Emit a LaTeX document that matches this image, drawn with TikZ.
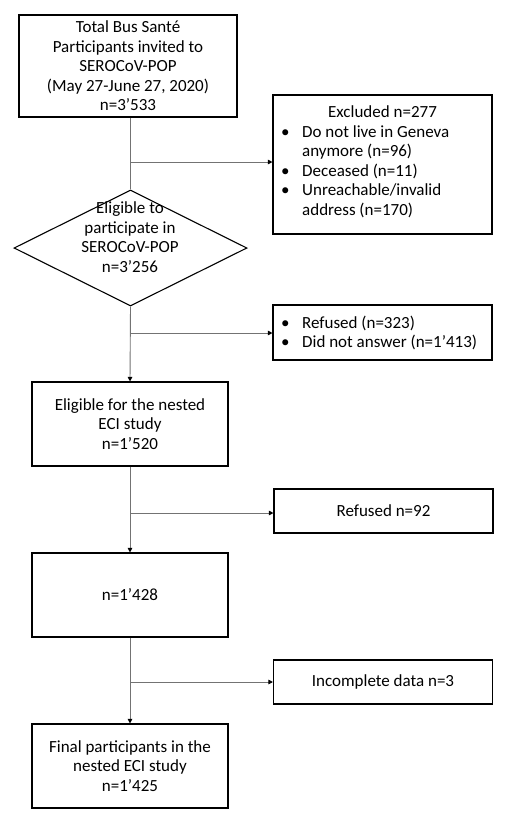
\documentclass[tikz,border=0pt]{standalone}
\usepackage{fontspec}
\setmainfont{Carlito}
\usetikzlibrary{shapes.geometric,arrows.meta}
\begin{document}
\begin{tikzpicture}[x=1pt,y=-1pt,
  font=\fontsize{17}{19.5}\selectfont,
  box/.style={draw=black, line width=1.1pt, align=center, inner sep=0pt, minimum width=196pt, minimum height=84pt},
  sidebox/.style={draw=black, line width=1.1pt, align=center, inner sep=0pt, minimum width=219pt},
  txt/.style={inner sep=0pt, align=center},
  link/.style={draw=black!55, line width=0.9pt},
  arr/.style={link, -{Triangle[length=4.5pt,width=4.5pt,fill=black,color=black]}}]
\useasboundingbox (0,0) rectangle (508,828);
\fill[white] (0,0) rectangle (508,828);

% main column
\node[box, minimum width=218pt, minimum height=102pt] (total) at (128,66)
  {Total Bus Sant\'e\\Participants invited to\\SEROCoV-POP\\(May 27-June 27, 2020)\\n=3\textquoteright 533};
\node[draw=black, line width=1.1pt, diamond, inner sep=0pt, minimum width=233pt, minimum height=116pt] (dia) at (130.5,248) {};
\node[txt] (diat) at (130,237) {Eligible to\\participate in\\SEROCoV-POP\\n=3\textquoteright 256};
\node[box] (elig) at (130,424) {Eligible for the nested\\ECI study\\n=1\textquoteright 520};
\node[box] (n1428) at (130,595) {n=1\textquoteright 428};
\node[box] (final) at (130,766) {Final participants in the\\nested ECI study\\n=1\textquoteright 425};

% side boxes
\node[sidebox, minimum height=139pt] (excl) at (382.5,164.5) {};
\node[txt, anchor=west] (exclt) at (281,162.5) {%
  \begin{tabular}{@{}p{21pt}@{}l@{}}
  \multicolumn{2}{@{}l@{}}{\hspace{47pt}Excluded n=277}\\
  \textbullet & Do not live in Geneva\\
   & anymore (n=96)\\
  \textbullet & Deceased (n=11)\\
  \textbullet & Unreachable/invalid\\
   & address (n=170)
  \end{tabular}};
\node[sidebox, minimum height=55pt] (ref) at (382.5,332.5) {};
\node[txt, anchor=west] (reft) at (281,334) {%
  \begin{tabular}{@{}p{21pt}@{}l@{}}
  \textbullet & Refused (n=323)\\
  \textbullet & Did not answer (n=1\textquoteright 413)
  \end{tabular}};
\node[sidebox, minimum height=44pt] (ref92) at (383.5,511) {Refused n=92};
\node[sidebox, minimum height=44pt] (inc) at (383,682) {Incomplete data n=3};

% branch points
\coordinate (b1) at (130,162);
\coordinate (b2) at (130,333);
\coordinate (b3) at (130,513);
\coordinate (b4) at (130,682);

% connectors
\draw[link] (dia.north |- total.south) -- (dia.north);
\draw[arr] (b1) -- (excl.west |- b1);
\draw[arr] (dia.south) -- (elig.north);
\draw[arr] (b2) -- (ref.west |- b2);
\draw[arr] (elig.south) -- (n1428.north);
\draw[arr] (b3) -- (ref92.west |- b3);
\draw[arr] (n1428.south) -- (final.north);
\draw[arr] (b4) -- (inc.west |- b4);
\end{tikzpicture}
\end{document}
